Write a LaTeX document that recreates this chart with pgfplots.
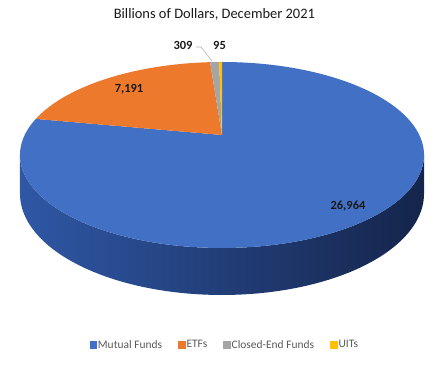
\documentclass[border=0pt]{standalone}
\usepackage{pgfplots}
\pgfplotsset{compat=1.18}
\usepackage{pgfplotstable}
\usepackage{fontspec}
\setmainfont{Carlito}
\definecolor{mfblue}{HTML}{4270C4}
\definecolor{etforange}{HTML}{ED7A2C}
\definecolor{cefgray}{HTML}{A5A5A5}
\definecolor{uityellow}{HTML}{FFC000}
\definecolor{sideL}{HTML}{2F57A5}
\definecolor{sideR}{HTML}{15254B}
\definecolor{legtext}{HTML}{595959}
\pgfplotstableread[col sep=comma]{
label,value
Mutual Funds,26964
ETFs,7191
Closed-End Funds,309
UITs,95
}\piedata
\begin{document}
\pgfplotstablegetelem{0}{value}\of\piedata\edef\vA{\pgfplotsretval}%
\pgfplotstablegetelem{1}{value}\of\piedata\edef\vB{\pgfplotsretval}%
\pgfplotstablegetelem{2}{value}\of\piedata\edef\vC{\pgfplotsretval}%
\pgfplotstablegetelem{3}{value}\of\piedata\edef\vD{\pgfplotsretval}%
\edef\tot{\fpeval{\vA+\vB+\vC+\vD}}%
\edef\aA{\fpeval{90-360*\vA/\tot}}%
\edef\aB{\fpeval{\aA-360*\vB/\tot}}%
\edef\aC{\fpeval{\aB-360*\vC/\tot}}%
\edef\aD{\fpeval{\aC-360*\vD/\tot}}%
\pgfkeys{/pgf/number format/.cd, assume math mode=true, 1000 sep={,}}%
\begin{tikzpicture}[declare function={
  px(\t)=222+197.3*cos(\t)/(1+0.215*sin(\t));
  pyt(\t)=234+88.7*sin(\t)/(1+0.215*sin(\t));
  pyb(\t)=pyt(\t)-36.9/(1+0.215*sin(\t));
}]
\begin{axis}[
  scale only axis, width=442bp, height=369bp,
  xmin=0, xmax=442, ymin=0, ymax=369,
  hide axis, clip=false,
  title={Billions of Dollars, December 2021},
  title style={at={(axis description cs:0.485,0.9458)}, anchor=center,
    font=\fontsize{14.5}{17}\selectfont, text=black!90},
  legend columns=4,
  legend style={at={(axis description cs:0.508,0.065)}, anchor=center,
    draw=none, fill=none, font=\fontsize{11.5}{13}\selectfont, text=legtext,
    nodes={inner xsep=1.5bp, inner ysep=0bp},
    /tikz/every even column/.append style={column sep=14.5bp}},
  legend image code/.code={\fill[#1] (0bp,-3bp) rectangle (6.5bp,3.5bp);},
]
\addlegendimage{mfblue}
\addlegendimage{etforange}
\addlegendimage{cefgray}
\addlegendimage{uityellow}
\legend{Mutual Funds, ETFs, Closed-End Funds, UITs}
\path (axis cs:0,0) rectangle (axis cs:442,369);
% side wall
\shade[left color=sideL, right color=sideR]
  plot[domain=192.41:347.59, samples=90] (axis cs:{px(\x)},{pyt(\x)})
  -- plot[domain=347.59:192.41, samples=90] (axis cs:{px(\x)},{pyb(\x)}) -- cycle;
% top face sectors
\fill[mfblue] (axis cs:222,234) -- plot[domain=90:\aA, samples=160] (axis cs:{px(\x)},{pyt(\x)}) -- cycle;
\fill[etforange] (axis cs:222,234) -- plot[domain=\aA:\aB, samples=60] (axis cs:{px(\x)},{pyt(\x)}) -- cycle;
\fill[cefgray] (axis cs:222,234) -- plot[domain=\aB:\aC, samples=8] (axis cs:{px(\x)},{pyt(\x)}) -- cycle;
\fill[uityellow] (axis cs:222,234) -- plot[domain=\aC:\aD, samples=5] (axis cs:{px(\x)},{pyt(\x)}) -- cycle;
% labels
\node[font=\fontsize{12.5}{15}\selectfont\bfseries, text=black!90] at (axis cs:348,163) {\pgfmathprintnumber{\vA}};
\node[font=\fontsize{12.5}{15}\selectfont\bfseries, text=black!90] at (axis cs:129,280) {\pgfmathprintnumber{\vB}};
\node[font=\fontsize{12.5}{15}\selectfont\bfseries, text=black!90] at (axis cs:183,324) {\pgfmathprintnumber{\vC}};
\node[font=\fontsize{12.5}{15}\selectfont\bfseries, text=black!90] at (axis cs:219.5,324) {\pgfmathprintnumber{\vD}};
\draw[gray!60, line width=0.6pt] (axis cs:196,322) -- (axis cs:201,322) -- (axis cs:212,308);
\end{axis}
\end{tikzpicture}
\end{document}
